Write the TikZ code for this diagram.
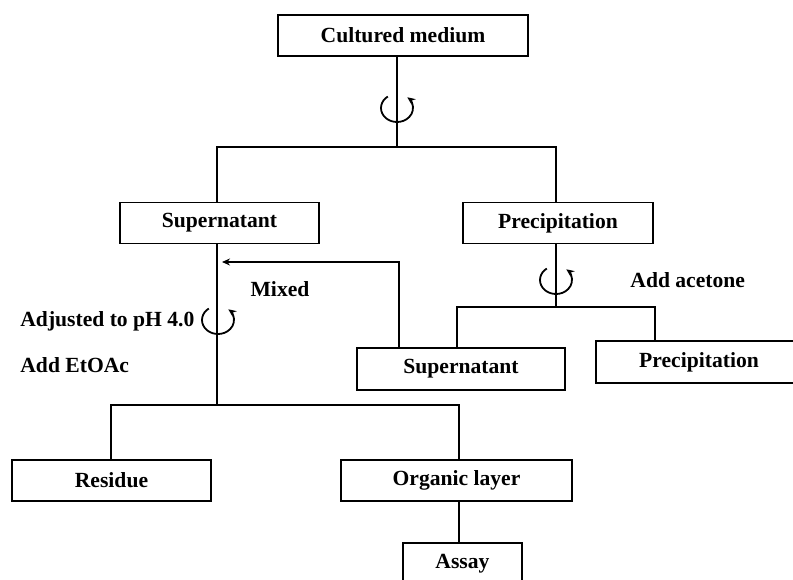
\documentclass[tikz,border=0pt]{standalone}
\usepackage{fontspec}
\setmainfont{Liberation Serif}
\usetikzlibrary{arrows.meta}
\begin{document}
\begin{tikzpicture}[x=0.5pt,y=-0.5pt,
  every node/.style={font=\fontsize{10.8}{13}\selectfont\bfseries},
  boxn/.style={draw,line width=0.9pt,inner sep=0pt,minimum height=20.5pt},
  ln/.style={line width=0.9pt},
  rot/.style={line width=0.9pt,-{Stealth[length=4pt,width=3.5pt]}},
  lbl/.style={inner sep=0pt}]
\useasboundingbox (0,0) rectangle (793,579);
\clip (0,0) rectangle (793,579);
% boxes
\node[boxn,minimum width=125pt] (cm) at (403,35.5) {Cultured medium};
\node[boxn,minimum width=99.5pt] (sup1) at (219.5,223) {Supernatant};
\node[boxn,minimum width=95pt] (prec1) at (558,223) {Precipitation};
\node[boxn,minimum width=104pt,minimum height=21pt] (sup2) at (461,369) {Supernatant};
\node[boxn,minimum width=103pt,minimum height=21pt] (prec2) at (699,362) {Precipitation};
\node[boxn,minimum width=99.5pt] (res) at (111.5,480.5) {Residue};
\node[boxn,minimum width=115.5pt] (org) at (456.5,480.5) {Organic layer};
\node[boxn,minimum width=59.5pt] (assay) at (462.5,563.5) {Assay};
% junction coordinates
\coordinate (j1) at (397,147);
\coordinate (j1l) at (217,147);
\coordinate (j1r) at (556,147);
\coordinate (j2) at (217,405);
\coordinate (j2l) at (111,405);
\coordinate (j2r) at (459,405);
\coordinate (j3) at (556,307);
\coordinate (j3l) at (457,307);
\coordinate (j3r) at (655,307);
\coordinate (mixc) at (399,262);
\coordinate (mixtip) at (222,262);
% connectors
\draw[ln] (cm.south -| j1) -- (j1);
\draw[ln] (sup1.north -| j1l) -- (j1l) -- (j1r) -- (prec1.north -| j1r);
\draw[ln] (sup1.south -| j2) -- (j2);
\draw[ln] (res.north -| j2l) -- (j2l) -- (j2r) -- (org.north -| j2r);
\draw[ln] (org.south -| j2r) -- (assay.north -| j2r);
\draw[ln] (prec1.south -| j3) -- (j3);
\draw[ln] (sup2.north -| j3l) -- (j3l) -- (j3r) -- (prec2.north -| j3r);
\draw[ln,-{Stealth[length=4pt,width=3.5pt]}] (sup2.north -| mixc) -- (mixc) -- (mixtip);
% rotation symbols
\coordinate (r1) at (397,108);
\coordinate (r2) at (556,280);
\coordinate (r3) at (218,320);
\foreach \c in {r1,r2,r3}
  \draw[rot] ([shift={(125:8pt and 7pt)}]\c) arc[start angle=125,end angle=410,x radius=8pt,y radius=7pt];
% labels
\node[lbl] (mixed) at (280,289) {Mixed};
\node[lbl,anchor=west] (adj) at (20,321) {Adjusted to pH 4.0};
\node[lbl,anchor=west] (etoac) at (20,365) {Add EtOAc};
\node[lbl,anchor=west] (acet) at (630,280) {Add acetone};
\end{tikzpicture}
\end{document}
